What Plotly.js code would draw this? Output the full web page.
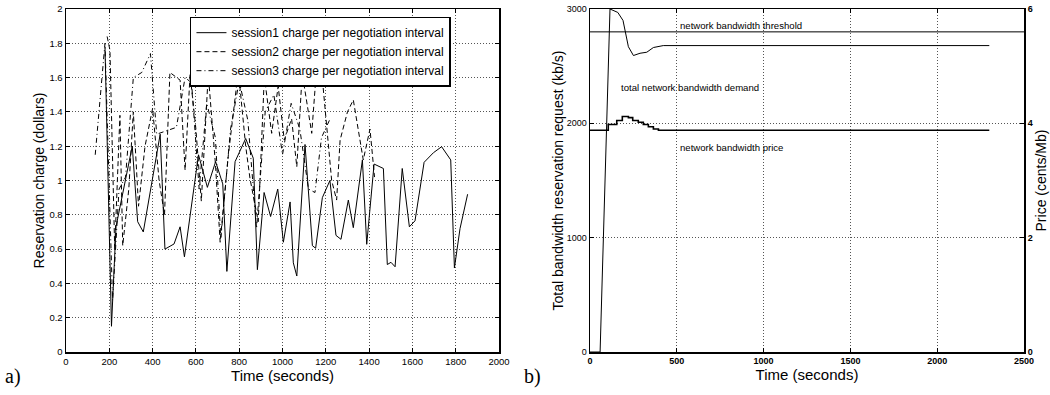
<!DOCTYPE html>
<html>
<head>
<meta charset="utf-8">
<script src="https://cdn.plot.ly/plotly-3.0.1.min.js"></script>
<style>html,body{margin:0;padding:0;background:#fff;}#chart{width:1050px;height:395px;}</style>
</head>
<body>
<div id="chart"></div>
<script>
// ---- (a) reservation charge per negotiation interval ----
const s1Time = [180,210,231,306,331,357,435,457,499,527,547,612,653,691,724,743,781,830,865,884,915,945,978,1004,1035,1050,1066,1104,1138,1153,1184,1219,1247,1270,1304,1327,1369,1389,1423,1466,1484,1501,1520,1553,1586,1612,1654,1697,1735,1777,1794,1820,1855];
const s1Charge = [1.78,0.15,0.73,1.20,0.76,0.70,1.27,0.60,0.63,0.73,0.555,1.15,0.96,1.11,0.98,0.47,1.11,1.245,1.13,0.48,0.93,0.79,0.95,0.64,0.875,0.52,0.443,1.21,0.62,0.605,0.90,1.0,0.68,0.657,0.886,0.725,1.12,0.628,1.096,1.07,0.51,0.523,0.497,1.07,0.73,0.765,1.106,1.162,1.197,1.12,0.49,0.72,0.92];

const s2Time = [190,203,225,249,262,290,311,335,365,400,430,455,480,527,550,573,600,625,657,690,712,750,796,830,850,888,916,950,980,1008,1042,1066,1091,1135,1160,1181,1227,1250,1266,1300,1327,1373,1404,1425];
const s2Charge = [1.84,1.76,0.60,1.38,0.62,0.95,1.40,0.85,1.20,1.42,1.00,0.80,1.63,1.585,1.06,1.62,1.30,0.88,1.62,1.10,0.64,1.15,1.64,1.20,1.01,0.76,1.605,1.275,1.55,1.236,1.36,1.08,1.625,1.275,1.70,1.635,1.0,0.886,1.236,1.40,1.47,1.12,1.30,1.02];

const s3Time = [135,180,215,245,275,311,350,390,419,465,510,550,580,615,650,690,715,760,800,840,880,920,960,1000,1040,1080,1120,1150,1180,1220];
const s3Charge = [1.15,1.80,0.30,0.95,1.02,1.60,1.63,1.74,1.27,1.29,1.31,1.60,1.57,0.95,1.45,1.25,0.66,1.30,1.58,1.35,0.72,1.40,1.50,1.15,1.45,1.30,0.95,0.93,1.25,1.36];

const seriesNames = ["session1 charge per negotiation interval","session2 charge per negotiation interval","session3 charge per negotiation interval"];

// ---- (b) total bandwidth demand, threshold, price ----
const demandTime = [0,58,115,160,190,221,250,288,327,365,422,2300];
const demandKbps = [0,0,3000,2970,2900,2670,2593,2613,2622,2663,2680,2680];
const thresholdTime = [0,2500];
const thresholdKbps = [2800,2800];
const priceTime = [0,105,154,186,221,246,278,307,336,365,394,2300];
const priceCents = [3.88,3.98,4.05,4.12,4.10,4.05,4.02,3.98,3.94,3.90,3.88,3.88];

const xTicksA = [0,200,400,600,800,1000,1200,1400,1600,1800,2000];
const yTicksA = [0,0.2,0.4,0.6,0.8,1,1.2,1.4,1.6,1.8,2];
const xTicksB = [0,500,1000,1500,2000,2500];
const yTicksB = [0,1000,2000,3000];
const yTicksPrice = [0,2,4,6];

const FONT = "Liberation Sans, Arial, sans-serif";
const lineBase = {mode:"lines", hoverinfo:"skip"};

const traces = [
  Object.assign({x:s1Time, y:s1Charge, name:seriesNames[0], xaxis:"x", yaxis:"y",
    line:{color:"#000", width:1, dash:"solid"}}, lineBase),
  Object.assign({x:s2Time, y:s2Charge, name:seriesNames[1], xaxis:"x", yaxis:"y",
    line:{color:"#000", width:1, dash:"5px,3px"}}, lineBase),
  Object.assign({x:s3Time, y:s3Charge, name:seriesNames[2], xaxis:"x", yaxis:"y",
    line:{color:"#000", width:1, dash:"5px,3px,1px,3px"}}, lineBase),
  Object.assign({x:thresholdTime, y:thresholdKbps, xaxis:"x2", yaxis:"y2", showlegend:false,
    line:{color:"#000", width:1}}, lineBase),
  Object.assign({x:demandTime, y:demandKbps, xaxis:"x2", yaxis:"y2", showlegend:false,
    line:{color:"#000", width:1}}, lineBase),
  Object.assign({x:priceTime, y:priceCents, xaxis:"x2", yaxis:"y3", showlegend:false,
    line:{color:"#000", width:1.6, shape:"hv"}}, lineBase)
];

const gridCommon = {showgrid:true, gridcolor:"#555", griddash:"1px,2px", gridwidth:1,
  zeroline:false, showline:true, linecolor:"#000", linewidth:1.5,
  ticks:"inside", ticklen:4, tickcolor:"#000", mirror:"ticks", automargin:false};

const layout = {
  width:1050, height:395,
  margin:{l:66, r:26, t:9, b:43},
  paper_bgcolor:"#fff", plot_bgcolor:"#fff",
  font:{family:FONT, color:"#000"},
  showlegend:true,
  legend:{x:0.1294, y:0.9776, xanchor:"left", yanchor:"top",
    bgcolor:"#fff", bordercolor:"#000", borderwidth:1.5,
    font:{family:FONT, size:12, color:"#000"}, tracegroupgap:0},
  xaxis:Object.assign({}, gridCommon, {domain:[0,0.452], range:[0,2000], anchor:"y",
    tickmode:"array", tickvals:xTicksA, tickfont:{size:9.5, family:FONT},
    title:{text:"Time (seconds)", font:{size:15, family:FONT}, standoff:2}}),
  yaxis:Object.assign({}, gridCommon, {domain:[0,1], range:[0,2], anchor:"x",
    tickmode:"array", tickvals:yTicksA, tickfont:{size:9.5, family:FONT},
    title:{text:"Reservation charge (dollars)", font:{size:14, family:FONT}, standoff:1}}),
  xaxis2:Object.assign({}, gridCommon, {domain:[0.547,1], range:[0,2500], anchor:"y2",
    tickmode:"array", tickvals:xTicksB, tickfont:{size:9, family:FONT, weight:"bold"},
    title:{text:"Time (seconds)", font:{size:15, family:FONT}, standoff:2}}),
  yaxis2:Object.assign({}, gridCommon, {domain:[0,1], range:[0,3000], anchor:"x2",
    mirror:false,
    tickmode:"array", tickvals:yTicksB, tickfont:{size:9, family:FONT},
    title:{text:"Total bandwidth reservation request (kb/s)", font:{size:14, family:FONT}, standoff:0}}),
  yaxis3:{overlaying:"y2", side:"right", anchor:"x2", range:[0,6], showgrid:false, zeroline:false,
    showline:true, linecolor:"#000", linewidth:2, ticks:"inside", ticklen:4, tickcolor:"#000",
    tickmode:"array", tickvals:yTicksPrice, tickfont:{size:9, family:FONT, weight:"bold"},
    automargin:false,
    title:{text:"Price (cents/Mb)", font:{size:14, family:FONT}, standoff:4}},
  annotations:[
    {xref:"x2", yref:"y2", x:508, y:2855, text:"network bandwidth threshold", showarrow:false,
      xanchor:"left", yanchor:"middle", font:{size:9.6, family:FONT}},
    {xref:"x2", yref:"y2", x:167, y:2314, text:"total network bandwidth demand", showarrow:false,
      xanchor:"left", yanchor:"middle", font:{size:9.6, family:FONT}},
    {xref:"x2", yref:"y2", x:508, y:1791, text:"network bandwidth price", showarrow:false,
      xanchor:"left", yanchor:"middle", font:{size:9.6, family:FONT}},
    {xref:"paper", yref:"paper", x:-0.066, y:-0.07, text:"a)", showarrow:false,
      xanchor:"left", yanchor:"middle", font:{size:20, family:"Liberation Serif, Times New Roman, serif"}},
    {xref:"paper", yref:"paper", x:0.476, y:-0.07, text:"b)", showarrow:false,
      xanchor:"left", yanchor:"middle", font:{size:20, family:"Liberation Serif, Times New Roman, serif"}}
  ]
};

Plotly.newPlot("chart", traces, layout, {staticPlot:true, displayModeBar:false});
</script>
</body>
</html>
